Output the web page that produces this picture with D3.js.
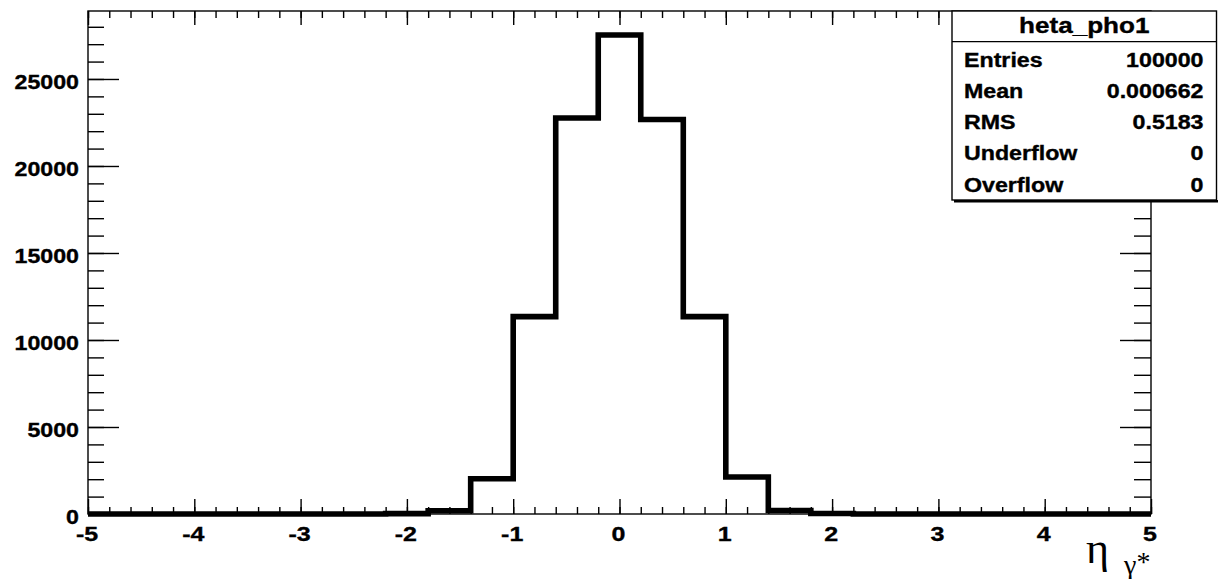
<!DOCTYPE html>
<html>
<head>
<meta charset="utf-8">
<script src="https://cdn.jsdelivr.net/npm/d3@7"></script>
<style>
  body { margin: 0; background: #fff; }
  svg { display: block; }
</style>
</head>
<body>
<svg id="chart" width="1218" height="579"></svg>
<script>
// Histogram bin edges (eta) and entries per bin
const binEdges = [-5.0, -4.6, -4.2, -3.8, -3.4, -3.0, -2.6, -2.2, -1.8, -1.4, -1.0, -0.6, -0.2,
                  0.2, 0.6, 1.0, 1.4, 1.8, 2.2, 2.6, 3.0, 3.4, 3.8, 4.2, 4.6, 5.0];
const counts = [0, 0, 0, 0, 0, 0, 0, 20, 190, 2030, 11340, 22760, 27530,
                22670, 11340, 2130, 200, 25, 0, 0, 0, 0, 0, 0, 0];

// Axis labels
const xTickValues = [-5, -4, -3, -2, -1, 0, 1, 2, 3, 4, 5];
const yTickValues = [0, 5000, 10000, 15000, 20000, 25000];

// Statistics box
const statsTitle = "heta_pho1";
const statLabels = ["Entries", "Mean", "RMS", "Underflow", "Overflow"];
const statValues = ["100000", "0.000662", "0.5183", "0", "0"];

const svg = d3.select("#chart");
const FONT = "'Liberation Sans', Arial, Helvetica, sans-serif";

const frame = { l: 88, t: 11, r: 1151, b: 514 };
const x = d3.scaleLinear().domain([binEdges[0], binEdges[binEdges.length - 1]]).range([frame.l, frame.r]);
const yMax = d3.max(counts) * 1.05;
const y = d3.scaleLinear().domain([0, yMax]).range([frame.b, frame.t]);

const xMinor = x.ticks(50);
const yMinor = d3.range(0, yMax, 1000);

function styleTicks(g) {
  g.select(".domain").remove();
  g.selectAll(".tick line").attr("stroke", "#000").attr("stroke-width", 1.4);
  g.selectAll(".tick text").remove();
}

// Tick marks on all four sides of the frame
svg.append("g").attr("transform", `translate(0,${frame.b})`)
  .call(d3.axisBottom(x).tickValues(xMinor).tickSize(-7)).call(styleTicks);
svg.append("g").attr("transform", `translate(0,${frame.b})`)
  .call(d3.axisBottom(x).tickValues(xTickValues).tickSize(-15)).call(styleTicks);
svg.append("g").attr("transform", `translate(0,${frame.t})`)
  .call(d3.axisTop(x).tickValues(xMinor).tickSize(-7)).call(styleTicks);
svg.append("g").attr("transform", `translate(0,${frame.t})`)
  .call(d3.axisTop(x).tickValues(xTickValues).tickSize(-14)).call(styleTicks);
svg.append("g").attr("transform", `translate(${frame.l},0)`)
  .call(d3.axisLeft(y).tickValues(yMinor).tickSize(-16)).call(styleTicks);
svg.append("g").attr("transform", `translate(${frame.l},0)`)
  .call(d3.axisLeft(y).tickValues(yTickValues).tickSize(-31)).call(styleTicks);
svg.append("g").attr("transform", `translate(${frame.r},0)`)
  .call(d3.axisRight(y).tickValues(yMinor).tickSize(-17)).call(styleTicks);
svg.append("g").attr("transform", `translate(${frame.r},0)`)
  .call(d3.axisRight(y).tickValues(yTickValues).tickSize(-31)).call(styleTicks);

// Frame
svg.append("rect")
  .attr("x", frame.l).attr("y", frame.t)
  .attr("width", frame.r - frame.l).attr("height", frame.b - frame.t)
  .attr("fill", "none").attr("stroke", "#000").attr("stroke-width", 1.4);

function label(x0, y0, str, size, anchor, sx) {
  return svg.append("text")
    .attr("transform", `translate(${x0},${y0}) scale(${sx},1)`)
    .attr("text-anchor", anchor)
    .attr("font-family", FONT)
    .attr("font-size", size)
    .attr("font-weight", "bold")
    .attr("fill", "#000")
    .attr("stroke", "#000")
    .attr("stroke-width", 0.35)
    .text(str);
}

// Axis numbers
yTickValues.forEach(v => label(79, y(v) + 9.6, String(v), 20, "end", 1.16));
xTickValues.forEach(v => label(x(v) - 1, 540.5, String(v), 20.5, "middle", 1.22));

// Histogram outline (step line)
const pts = [[binEdges[0], 0]];
counts.forEach((c, i) => { pts.push([binEdges[i], c]); pts.push([binEdges[i + 1], c]); });
pts.push([binEdges[binEdges.length - 1], 0]);
svg.append("path")
  .datum(pts)
  .attr("d", d3.line().x(d => x(d[0])).y(d => y(d[1])))
  .attr("fill", "none")
  .attr("stroke", "#000")
  .attr("stroke-width", 5.6)
  .attr("stroke-linejoin", "miter")
  .attr("stroke-linecap", "butt");

// Statistics box
const box = { l: 952, t: 11, r: 1216.5, b: 200, head: 41.7 };
svg.append("line")
  .attr("x1", box.l + 2).attr("x2", 1218).attr("y1", box.b + 1.2).attr("y2", box.b + 1.2)
  .attr("stroke", "#000").attr("stroke-width", 2.4);
svg.append("rect")
  .attr("x", box.l).attr("y", box.t)
  .attr("width", box.r - box.l).attr("height", box.b - box.t)
  .attr("fill", "#fff").attr("stroke", "#000").attr("stroke-width", 1.4);
svg.append("line")
  .attr("x1", box.l).attr("x2", box.r).attr("y1", box.head).attr("y2", box.head)
  .attr("stroke", "#000").attr("stroke-width", 1.2);
label((box.l + box.r) / 2, 32.5, statsTitle, 22.5, "middle", 1.16);
statLabels.forEach((s, i) => {
  const by = 66.7 + i * 31.25;
  label(964, by, s, 19.5, "start", 1.19);
  label(1203.5, by, statValues[i], 19.5, "end", 1.19);
});

// Axis title: eta of the photon
svg.append("text")
  .attr("x", 1086).attr("y", 563)
  .attr("font-family", "'Liberation Serif', 'Times New Roman', serif")
  .attr("font-size", 44)
  .text("η");
const sub = svg.append("text")
  .attr("x", 1124).attr("y", 574)
  .attr("font-family", "'Liberation Serif', 'Times New Roman', serif")
  .attr("font-size", 28);
sub.append("tspan").text("γ");
sub.append("tspan").attr("dy", -3).text("*");
</script>
</body>
</html>
